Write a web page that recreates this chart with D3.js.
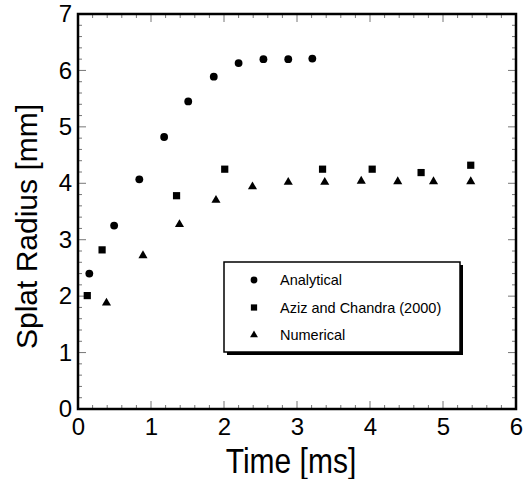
<!DOCTYPE html>
<html>
<head>
<meta charset="utf-8">
<script src="https://cdn.jsdelivr.net/npm/d3@7"></script>
<style>
  body { margin: 0; background: #fff; }
  svg { display: block; font-family: "Liberation Sans", Arial, sans-serif; }
</style>
</head>
<body>
<svg id="chart" width="528" height="479"></svg>
<script>
// values
const analyticalTime = [0.155, 0.495, 0.84, 1.18, 1.51, 1.86, 2.20, 2.54, 2.88, 3.21];
const analyticalRadius = [2.40, 3.25, 4.07, 4.82, 5.45, 5.89, 6.13, 6.20, 6.20, 6.21];

const azizTime = [0.127, 0.33, 1.35, 2.01, 3.35, 4.03, 4.70, 5.38];
const azizRadius = [2.01, 2.82, 3.78, 4.25, 4.25, 4.25, 4.19, 4.32];

const numericalTime = [0.39, 0.89, 1.39, 1.89, 2.39, 2.88, 3.38, 3.88, 4.38, 4.87, 5.38];
const numericalRadius = [1.88, 2.72, 3.27, 3.70, 3.94, 4.02, 4.02, 4.04, 4.03, 4.03, 4.03];

const seriesNames = ["Analytical", "Aziz and Chandra (2000)", "Numerical"];
const xTicks = [0, 1, 2, 3, 4, 5, 6];
const yTicks = [0, 1, 2, 3, 4, 5, 6, 7];

const svg = d3.select("#chart");
const margin = { top: 14, right: 12, bottom: 70, left: 78 };
const width = 528, height = 479;

const x = d3.scaleLinear().domain([0, 6]).range([margin.left, width - margin.right]);
const y = d3.scaleLinear().domain([0, 7]).range([height - margin.bottom, margin.top]);

const x0 = x.range()[0], x1 = x.range()[1], y0 = y.range()[0], y1 = y.range()[1];

// minor + major inward ticks on all four sides
const minorX = d3.range(0, 6.001, 0.2), minorY = d3.range(0, 7.001, 0.2);
const ticks = svg.append("g").attr("stroke", "#777").attr("stroke-width", 1);
minorX.forEach(v => {
  const major = Math.abs(v - Math.round(v)) < 1e-6;
  const len = major ? 8 : 4;
  ticks.append("line").attr("x1", x(v)).attr("x2", x(v)).attr("y1", y0).attr("y2", y0 - len);
  ticks.append("line").attr("x1", x(v)).attr("x2", x(v)).attr("y1", y1).attr("y2", y1 + len);
});
minorY.forEach(v => {
  const major = Math.abs(v - Math.round(v)) < 1e-6;
  const len = major ? 8 : 4;
  ticks.append("line").attr("y1", y(v)).attr("y2", y(v)).attr("x1", x0).attr("x2", x0 + len);
  ticks.append("line").attr("y1", y(v)).attr("y2", y(v)).attr("x1", x1).attr("x2", x1 - len);
});

// frame
svg.append("rect")
  .attr("x", x0).attr("y", y1)
  .attr("width", x1 - x0).attr("height", y0 - y1)
  .attr("fill", "none").attr("stroke", "#000").attr("stroke-width", 2.5);

// axes labels (no domain path, frame drawn above)
const xAxis = svg.append("g").attr("transform", `translate(0,${y0})`)
  .call(d3.axisBottom(x).tickValues(xTicks).tickSize(0).tickPadding(9).tickFormat(d3.format("d")));
xAxis.select(".domain").remove();
xAxis.selectAll("text").attr("font-size", 24).attr("font-family", null).attr("fill", "#000");

const yAxis = svg.append("g").attr("transform", `translate(${x0},0)`)
  .call(d3.axisLeft(y).tickValues(yTicks).tickSize(0).tickPadding(6).tickFormat(d3.format("d")));
yAxis.select(".domain").remove();
yAxis.selectAll("text").attr("font-size", 24).attr("font-family", null).attr("fill", "#000");

svg.append("text")
  .attr("transform", `translate(${(x0 + x1) / 2 - 6},473) scale(1,1.15)`)
  .attr("text-anchor", "middle").attr("font-size", 30)
  .text("Time [ms]");

svg.append("text")
  .attr("transform", `translate(37,${(y0 + y1) / 2 + 15}) rotate(-90)`)
  .attr("text-anchor", "middle").attr("font-size", 30)
  .text("Splat Radius [mm]");

// markers
const shapes = [d3.symbolCircle, d3.symbolSquare, d3.symbolTriangle];
const sizes = [48, 52, 36];
const series = [
  analyticalTime.map((t, i) => [t, analyticalRadius[i]]),
  azizTime.map((t, i) => [t, azizRadius[i]]),
  numericalTime.map((t, i) => [t, numericalRadius[i]])
];

series.forEach((pts, s) => {
  svg.append("g").selectAll("path").data(pts).join("path")
    .attr("transform", d => `translate(${x(d[0])},${y(d[1])})`)
    .attr("d", d3.symbol().type(shapes[s]).size(sizes[s]))
    .attr("fill", "#000");
});

// legend with drop shadow
const lg = svg.append("g").attr("transform", "translate(224,262)");
lg.append("rect").attr("x", 3).attr("y", 3).attr("width", 236).attr("height", 90).attr("fill", "#000");
lg.append("rect").attr("width", 236).attr("height", 90)
  .attr("fill", "#fff").attr("stroke", "#000").attr("stroke-width", 1.5);

seriesNames.forEach((name, i) => {
  const cy = 18 + i * 27.5;
  lg.append("path")
    .attr("transform", `translate(30,${cy})`)
    .attr("d", d3.symbol().type(shapes[i]).size(sizes[i] * 0.75))
    .attr("fill", "#000");
  lg.append("text").attr("x", 56).attr("y", cy).attr("dy", "0.35em")
    .attr("font-size", 14.5).text(name);
});
</script>
</body>
</html>
